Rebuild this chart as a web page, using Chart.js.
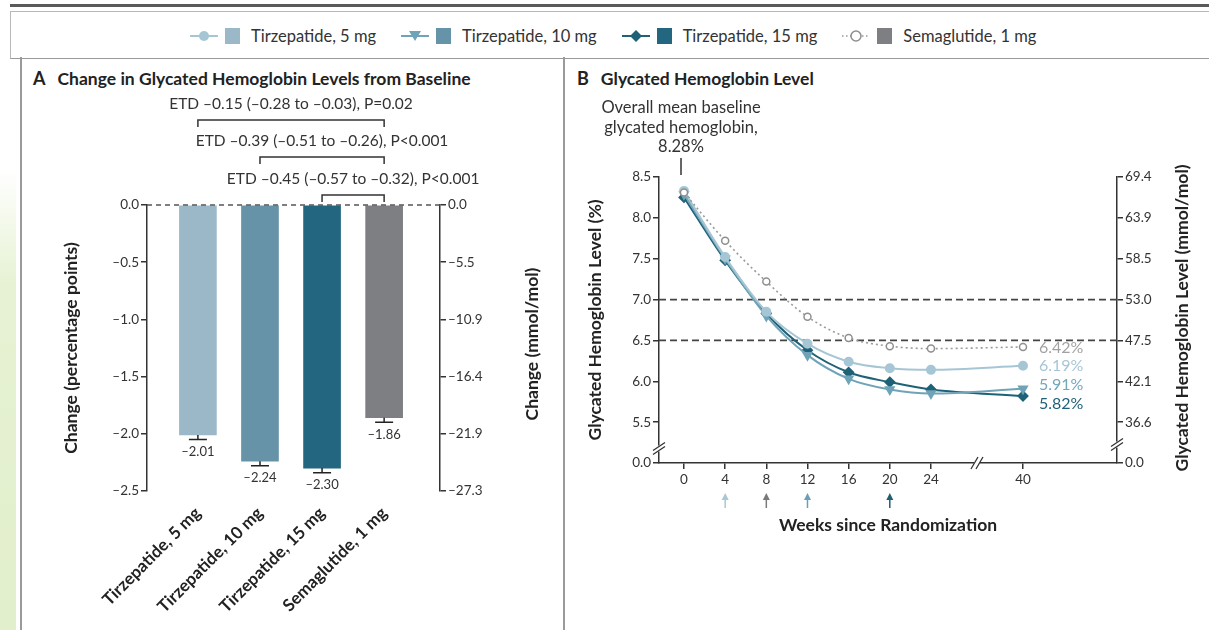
<!DOCTYPE html>
<html>
<head>
<meta charset="utf-8">
<script src="https://cdn.jsdelivr.net/npm/chart.js@4.4.1/dist/chart.umd.min.js"></script>
<style>
body { margin: 0; width: 1209px; height: 630px; overflow: hidden; background: #fff; position: relative; font-family: Lato, "Noto Sans", sans-serif; color: #222; }
.abs { position: absolute; }
#strip { left: 0; top: 170px; width: 16px; height: 460px; background: linear-gradient(#fff, #e6f2d3 25%, #e2efcc); }
#topline { left: 10px; top: 4px; right: 0; height: 3px; background: #5a5a5a; }
#legendbox { left: 10px; top: 11px; right: -2px; height: 46px; border: 1px solid #b8b8b8; border-bottom: 1.5px solid #9a9a9a; }
#leftline { left: 20px; top: 57px; width: 1.5px; height: 573px; background: #9a9a9a; }
#midline { left: 563px; top: 57px; width: 1.5px; height: 573px; background: #9a9a9a; }
#legend { left: 190px; top: 26px; display: flex; align-items: center; font-size: 16.5px; color: #333; white-space: nowrap; }
#legend .item { display: flex; align-items: center; margin-right: 25px; }
#legend svg { margin-right: 7px; }
#legend .sq { width: 15px; height: 16px; margin-right: 11px; }
.ttl { font-size: 17.5px; font-weight: bold; color: #222; white-space: nowrap; line-height: 21px; }
.ttl span { margin-right: 12px; font-size: 18px; }
canvas { position: absolute; }
</style>
</head>
<body>
<div id="strip" class="abs"></div>
<div id="topline" class="abs"></div>
<div id="legendbox" class="abs"></div>
<div id="leftline" class="abs"></div>
<div id="midline" class="abs"></div>

<div id="legend" class="abs">
  <div class="item">
    <svg width="28" height="14"><line x1="0" y1="7" x2="28" y2="7" stroke="#a6c6d5" stroke-width="2"/><circle cx="14" cy="7" r="5" fill="#a6c6d5"/></svg>
    <div class="sq" style="background:#9bb8c9"></div>Tirzepatide, 5 mg
  </div>
  <div class="item">
    <svg width="28" height="14"><line x1="0" y1="7" x2="28" y2="7" stroke="#6fa3b8" stroke-width="2"/><path d="M8 2 L20 2 L14 12 Z" fill="#6fa3b8"/></svg>
    <div class="sq" style="background:#6693a8"></div>Tirzepatide, 10 mg
  </div>
  <div class="item">
    <svg width="28" height="14"><line x1="0" y1="7" x2="28" y2="7" stroke="#1f6278" stroke-width="2"/><path d="M14 1 L20 7 L14 13 L8 7 Z" fill="#1f6278"/></svg>
    <div class="sq" style="background:#23667f"></div>Tirzepatide, 15 mg
  </div>
  <div class="item">
    <svg width="28" height="14"><line x1="0" y1="7" x2="28" y2="7" stroke="#999" stroke-width="1.5" stroke-dasharray="1.5 2.5"/><circle cx="14" cy="7" r="5" fill="#fff" stroke="#8f8f8f" stroke-width="1.5"/></svg>
    <div class="sq" style="background:#7e7f83"></div>Semaglutide, 1 mg
  </div>
</div>

<div class="ttl abs" style="left:33px;top:68px"><span>A</span>Change in Glycated Hemoglobin Levels from Baseline</div>
<div class="ttl abs" style="left:577px;top:68px"><span>B</span>Glycated Hemoglobin Level</div>

<canvas id="chartA" width="540" height="570" style="left:20px;top:60px"></canvas>
<canvas id="chartB" width="644" height="570" style="left:565px;top:60px"></canvas>

<script>
// panel A: change from baseline
const categories = ['Tirzepatide, 5 mg', 'Tirzepatide, 10 mg', 'Tirzepatide, 15 mg', 'Semaglutide, 1 mg'];
const changeValues = [-2.01, -2.24, -2.30, -1.86];
const changeErrors = [0.04, 0.04, 0.04, 0.04];
const barColors = ['#9bb8c9', '#6693a8', '#23667f', '#7e7f83'];
const rightTickLabelsA = ['0.0', '–5.5', '–10.9', '–16.4', '–21.9', '–27.3'];
const etdLabels = [
    'ETD –0.15 (–0.28 to –0.03), P=0.02',
    'ETD –0.39 (–0.51 to –0.26), P<0.001',
    'ETD –0.45 (–0.57 to –0.32), P<0.001'
];
const etdFrom = [0, 1, 2]; // each compared with semaglutide

// panel B: level over time
const weeks = [0, 4, 8, 12, 16, 20, 24, 40];
const tirz5 = [8.33, 7.52, 6.85, 6.46, 6.24, 6.16, 6.14, 6.19];
const tirz10 = [8.29, 7.50, 6.80, 6.32, 6.03, 5.90, 5.85, 5.91];
const tirz15 = [8.25, 7.48, 6.83, 6.38, 6.11, 5.99, 5.90, 5.82];
const sema1 = [8.31, 7.72, 7.22, 6.79, 6.53, 6.43, 6.40, 6.42];
const rightTickLabelsB = ['0.0', '36.6', '42.1', '47.5', '53.0', '58.5', '63.9', '69.4'];
const targetLines = [7.0, 6.5];
const endLabels = ['6.42%', '6.19%', '5.91%', '5.82%'];
const endColors = ['#a2a2a2', '#a6c6d5', '#72a7bc', '#1f6278'];
const arrowWeeks = [4, 8, 12, 20];
const arrowColors = ['#a9c7d5', '#7a7a7a', '#6aa0b6', '#1e5f74'];

const fontFamily = 'Lato, "Noto Sans", sans-serif';
Chart.defaults.font.family = fontFamily;
Chart.defaults.color = '#333';
Chart.defaults.animation = false;

const dash = v => (v < 0 ? '–' : '') + Math.abs(v).toFixed(2);

// x axis is broken between 24 and 40 weeks
const axisPos = w => w <= 24 ? w : 24 + (w - 24) * 0.559;

const panelAExtras = {
    id: 'panelAExtras',
    afterDatasetsDraw(chart) {
        const { ctx, chartArea: a, scales: { x, y } } = chart;
        ctx.save();
        // zero line
        ctx.strokeStyle = '#555';
        ctx.lineWidth = 1.5;
        ctx.setLineDash([5, 4]);
        ctx.beginPath();
        ctx.moveTo(a.left, y.getPixelForValue(0));
        ctx.lineTo(a.right, y.getPixelForValue(0));
        ctx.stroke();
        ctx.setLineDash([]);

        ctx.font = '13px ' + fontFamily;
        ctx.textAlign = 'center';
        ctx.textBaseline = 'middle';
        ctx.fillStyle = '#333';
        ctx.strokeStyle = '#222';

        changeValues.forEach((v, i) => {
            const cx = x.getPixelForValue(i);
            const y0 = y.getPixelForValue(v);
            const y1 = y.getPixelForValue(v - changeErrors[i]);
            ctx.beginPath();
            ctx.moveTo(cx, y0);
            ctx.lineTo(cx, y1);
            ctx.moveTo(cx - 9, y1);
            ctx.lineTo(cx + 9, y1);
            ctx.stroke();
            ctx.fillText(dash(v), cx, y1 + 12);
        });

        // ETD brackets
        const rise = [85, 48, 10];
        ctx.strokeStyle = '#333';
        ctx.font = '15.5px ' + fontFamily;
        etdLabels.forEach((t, k) => {
            const x1 = x.getPixelForValue(etdFrom[k]);
            const x2 = x.getPixelForValue(3);
            const by = a.top - rise[k];
            ctx.beginPath();
            ctx.moveTo(x1, by + 7);
            ctx.lineTo(x1, by);
            ctx.lineTo(x2, by);
            ctx.lineTo(x2, by + 7);
            ctx.stroke();
            ctx.fillText(t, (x1 + x2) / 2, by - 16);
        });

        // right axis title reads bottom to top
        ctx.translate(512, 284);
        ctx.rotate(-Math.PI / 2);
        ctx.font = 'bold 17.5px ' + fontFamily;
        ctx.fillStyle = '#222';
        ctx.fillText('Change (mmol/mol)', 0, 0);
        ctx.restore();
    }
};

new Chart(document.getElementById('chartA'), {
    type: 'bar',
    data: {
        datasets: [{
            data: categories.map((c, i) => ({ x: i, y: changeValues[i] })),
            backgroundColor: barColors,
            barThickness: 37,
            borderWidth: 0
        }]
    },
    options: {
        responsive: false,
        layout: { padding: { top: 145 } },
        plugins: { legend: { display: false }, tooltip: { enabled: false } },
        scales: {
            x: {
                type: 'linear',
                offset: false,
                min: -0.82,
                max: 3.9,
                afterBuildTicks: s => { s.ticks = categories.map((c, i) => ({ value: i })); },
                afterFit: s => { s.height = 139; },
                grid: { display: false, offset: false },
                border: { display: false },
                ticks: {
                    autoSkip: false,
                    minRotation: 45,
                    maxRotation: 45,
                    padding: 4,
                    color: '#222',
                    font: { size: 17, weight: 'bold' },
                    callback: v => categories[v]
                }
            },
            y: {
                min: -2.5,
                max: 0,
                afterFit: s => { s.width = 127; },
                ticks: {
                    stepSize: 0.5,
                    padding: 2,
                    font: { size: 13.5 },
                    callback: v => v === 0 ? '0.0' : '–' + Math.abs(v).toFixed(1)
                },
                grid: { drawOnChartArea: false, tickLength: 6, color: '#333', lineWidth: 1.5 },
                border: { color: '#333', width: 1.5 },
                title: {
                    display: true,
                    text: 'Change (percentage points)',
                    color: '#222',
                    font: { size: 17.5, weight: 'bold' },
                    padding: { top: 41 }
                }
            },
            y2: {
                position: 'right',
                min: -2.5,
                max: 0,
                afterFit: s => { s.width = 120; },
                ticks: {
                    stepSize: 0.5,
                    padding: 2,
                    font: { size: 13.5 },
                    callback: v => rightTickLabelsA[Math.round(-v / 0.5)]
                },
                grid: { drawOnChartArea: false, tickLength: 6, color: '#333', lineWidth: 1.5 },
                border: { color: '#333', width: 1.5 }
            }
        }
    },
    plugins: [panelAExtras]
});

const panelBExtras = {
    id: 'panelBExtras',
    beforeDatasetsDraw(chart) {
        const { ctx, chartArea: a, scales: { y } } = chart;
        ctx.save();
        ctx.strokeStyle = '#444';
        ctx.lineWidth = 1.8;
        ctx.setLineDash([7, 4]);
        targetLines.forEach(v => {
            const py = y.getPixelForValue(v);
            ctx.beginPath();
            ctx.moveTo(a.left, py);
            ctx.lineTo(a.right, py);
            ctx.stroke();
        });
        ctx.restore();
    },
    afterDatasetsDraw(chart) {
        const { ctx, chartArea: a, scales: { x, y } } = chart;
        ctx.save();

        // axis breaks
        const yb = (y.getPixelForValue(5) + y.getPixelForValue(5.5)) / 2 + 6;
        const xb = (x.getPixelForValue(axisPos(24)) + x.getPixelForValue(axisPos(40))) / 2;
        const breakV = (px, py) => {
            ctx.fillStyle = '#fff';
            ctx.fillRect(px - 3, py - 3, 6, 6);
            ctx.strokeStyle = '#333';
            ctx.lineWidth = 1.3;
            ctx.beginPath();
            ctx.moveTo(px - 6, py + 2); ctx.lineTo(px + 6, py - 6);
            ctx.moveTo(px - 6, py + 6); ctx.lineTo(px + 6, py - 2);
            ctx.stroke();
        };
        breakV(a.left, yb);
        breakV(a.right, yb - 4);
        ctx.fillStyle = '#fff';
        ctx.fillRect(xb - 3, a.bottom - 3, 6, 6);
        ctx.beginPath();
        ctx.moveTo(xb - 6, a.bottom + 6); ctx.lineTo(xb + 1, a.bottom - 6);
        ctx.moveTo(xb - 1, a.bottom + 6); ctx.lineTo(xb + 6, a.bottom - 6);
        ctx.stroke();

        // baseline annotation
        const x0 = x.getPixelForValue(0) - 3;
        ctx.strokeStyle = '#333';
        ctx.lineWidth = 1.5;
        ctx.beginPath();
        ctx.moveTo(x0, a.top - 19);
        ctx.lineTo(x0, a.top - 2);
        ctx.stroke();
        ctx.fillStyle = '#333';
        ctx.font = '16.5px ' + fontFamily;
        ctx.textAlign = 'center';
        ctx.textBaseline = 'middle';
        ctx.fillText('Overall mean baseline', x0, a.top - 69);
        ctx.fillText('glycated hemoglobin,', x0, a.top - 49);
        ctx.fillText('8.28%', x0, a.top - 30);

        // end labels
        const ends = [sema1, tirz5, tirz10, tirz15].map(s => s[s.length - 1]);
        const nudge = [1, 0, -4, 8];
        const ex = x.getPixelForValue(axisPos(40)) + 16;
        ctx.textAlign = 'left';
        ctx.font = '16px ' + fontFamily;
        endLabels.forEach((t, i) => {
            ctx.fillStyle = endColors[i];
            ctx.fillText(t, ex, y.getPixelForValue(ends[i]) + nudge[i]);
        });

        // arrows under the week axis
        arrowWeeks.forEach((w, i) => {
            const px = x.getPixelForValue(axisPos(w));
            const tip = a.bottom + 30;
            ctx.strokeStyle = arrowColors[i];
            ctx.fillStyle = arrowColors[i];
            ctx.lineWidth = 1.5;
            ctx.beginPath();
            ctx.moveTo(px, tip + 15);
            ctx.lineTo(px, tip + 5);
            ctx.stroke();
            ctx.beginPath();
            ctx.moveTo(px, tip);
            ctx.lineTo(px - 3.5, tip + 7);
            ctx.lineTo(px + 3.5, tip + 7);
            ctx.closePath();
            ctx.fill();
        });

        // right axis title reads bottom to top
        ctx.translate(617, 258);
        ctx.rotate(-Math.PI / 2);
        ctx.textAlign = 'center';
        ctx.font = 'bold 17.5px ' + fontFamily;
        ctx.fillStyle = '#222';
        ctx.fillText('Glycated Hemoglobin Level (mmol/mol)', 0, 0);
        ctx.restore();
    }
};

const toPoints = vals => weeks.map((w, i) => ({ x: axisPos(w), y: vals[i] }));

new Chart(document.getElementById('chartB'), {
    type: 'line',
    data: {
        datasets: [
            {
                label: 'Semaglutide, 1 mg',
                data: toPoints(sema1),
                borderColor: '#9b9b9b',
                borderWidth: 1.6,
                borderDash: [2, 3],
                pointStyle: 'circle',
                pointRadius: 3.5,
                pointBackgroundColor: '#fff',
                pointBorderColor: '#8f8f8f',
                pointBorderWidth: 1.5
            },
            {
                label: 'Tirzepatide, 5 mg',
                data: toPoints(tirz5),
                borderColor: '#a6c6d5',
                backgroundColor: '#a6c6d5',
                borderWidth: 2,
                pointStyle: 'circle',
                pointRadius: 4
            },
            {
                label: 'Tirzepatide, 10 mg',
                data: toPoints(tirz10),
                borderColor: '#6fa3b8',
                backgroundColor: '#6fa3b8',
                borderWidth: 2,
                pointStyle: 'triangle',
                rotation: 180,
                pointRadius: 4.5
            },
            {
                label: 'Tirzepatide, 15 mg',
                data: toPoints(tirz15),
                borderColor: '#1f6278',
                backgroundColor: '#1f6278',
                borderWidth: 2,
                pointStyle: 'rectRot',
                pointRadius: 4.5
            }
        ]
    },
    options: {
        responsive: false,
        layout: { padding: { top: 117 } },
        elements: { line: { cubicInterpolationMode: 'monotone' } },
        plugins: { legend: { display: false }, tooltip: { enabled: false } },
        scales: {
            x: {
                type: 'linear',
                min: -2.43,
                max: 42.08,
                afterBuildTicks: s => { s.ticks = weeks.map(w => ({ value: axisPos(w) })); },
                afterFit: s => { s.height = 167; },
                ticks: {
                    autoSkip: false,
                    maxRotation: 0,
                    padding: 3,
                    font: { size: 13.5 },
                    callback: (v, i) => String(weeks[i])
                },
                grid: { drawOnChartArea: false, tickLength: 6, color: '#333', lineWidth: 1.5 },
                border: { color: '#333', width: 1.5 },
                title: {
                    display: true,
                    text: 'Weeks since Randomization',
                    color: '#222',
                    font: { size: 17.5, weight: 'bold' },
                    padding: { bottom: 94 }
                }
            },
            y: {
                min: 5,
                max: 8.5,
                afterFit: s => { s.width = 94; },
                ticks: {
                    stepSize: 0.5,
                    padding: 2,
                    font: { size: 13.5 },
                    callback: v => v === 5 ? '0.0' : v.toFixed(1)
                },
                grid: { drawOnChartArea: false, tickLength: 6, color: '#333', lineWidth: 1.5 },
                border: { color: '#333', width: 1.5 },
                title: {
                    display: true,
                    text: 'Glycated Hemoglobin Level (%)',
                    color: '#222',
                    font: { size: 17.5, weight: 'bold' },
                    padding: { top: 20 }
                }
            },
            y2: {
                position: 'right',
                min: 5,
                max: 8.5,
                afterFit: s => { s.width = 92; },
                ticks: {
                    stepSize: 0.5,
                    padding: 2,
                    font: { size: 13.5 },
                    callback: v => rightTickLabelsB[Math.round((v - 5) / 0.5)]
                },
                grid: { drawOnChartArea: false, tickLength: 6, color: '#333', lineWidth: 1.5 },
                border: { color: '#333', width: 1.5 }
            }
        }
    },
    plugins: [panelBExtras]
});
</script>
</body>
</html>
